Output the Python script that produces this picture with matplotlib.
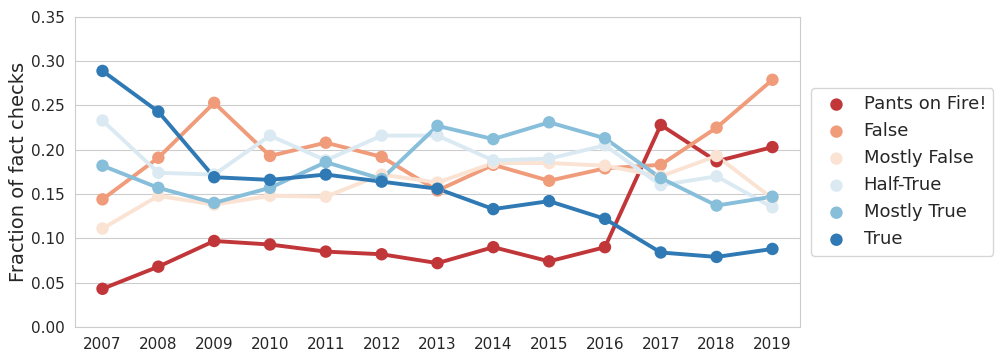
import matplotlib
matplotlib.use("Agg")
import matplotlib.pyplot as plt
import seaborn as sns

years = [2007, 2008, 2009, 2010, 2011, 2012, 2013, 2014, 2015, 2016, 2017, 2018, 2019]
labels = ["Pants on Fire!", "False", "Mostly False", "Half-True", "Mostly True", "True"]

pants_on_fire = [0.043, 0.068, 0.097, 0.093, 0.085, 0.082, 0.072, 0.090, 0.074, 0.090, 0.228, 0.187, 0.203]
false_vals    = [0.144, 0.191, 0.253, 0.193, 0.208, 0.192, 0.154, 0.183, 0.165, 0.179, 0.183, 0.225, 0.279]
mostly_false  = [0.111, 0.148, 0.138, 0.148, 0.147, 0.172, 0.163, 0.185, 0.185, 0.182, 0.170, 0.193, 0.145]
half_true     = [0.233, 0.174, 0.172, 0.216, 0.188, 0.216, 0.216, 0.188, 0.190, 0.205, 0.160, 0.170, 0.135]
mostly_true   = [0.182, 0.157, 0.140, 0.157, 0.186, 0.167, 0.227, 0.212, 0.231, 0.213, 0.168, 0.137, 0.147]
true_vals     = [0.289, 0.243, 0.169, 0.166, 0.172, 0.164, 0.156, 0.133, 0.142, 0.122, 0.084, 0.079, 0.088]

series = [pants_on_fire, false_vals, mostly_false, half_true, mostly_true, true_vals]

sns.set_style("whitegrid")
plt.rcParams['font.family'] = ['DejaVu Sans']
colors = sns.color_palette("RdBu", 6)

fig = plt.figure(figsize=(10.08, 3.6), dpi=100)
ax = fig.add_axes([0.074, 0.092, 0.720, 0.861])

xpos = list(range(len(years)))
for vals, lab, c in zip(series, labels, colors):
    ax.plot(xpos, vals, color=c, lw=2.8, zorder=2)
    ax.scatter(xpos, vals, color=c, s=80, zorder=3, label=lab, edgecolors='none')

ax.set_xticks(xpos)
ax.set_xticklabels([str(y) for y in years])
ax.set_xlim(-0.5, len(years) - 0.5)
ax.set_ylim(0, 0.35)
ax.set_yticks([0.0, 0.05, 0.10, 0.15, 0.20, 0.25, 0.30, 0.35])
ax.set_yticklabels(["0.00", "0.05", "0.10", "0.15", "0.20", "0.25", "0.30", "0.35"])
ax.tick_params(axis='both', labelsize=11, colors='#262626')
ax.xaxis.grid(False)
ax.set_ylabel("Fraction of fact checks", fontsize=14, color='#262626', labelpad=2)
for s in ax.spines.values():
    s.set_color('#cccccc')

ax.legend(loc='center left', bbox_to_anchor=(1.0, 0.5), fontsize=13, frameon=True,
          handletextpad=0.5, borderaxespad=0.6, labelcolor='#262626')

fig.savefig("out.png", dpi=100)
